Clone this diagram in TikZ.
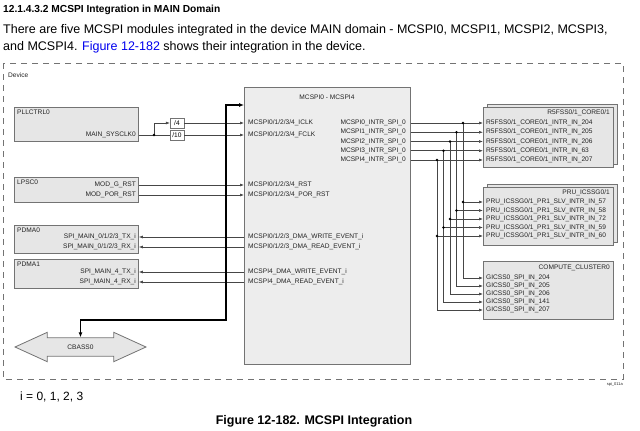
\documentclass[tikz,border=0pt]{standalone}
\usepackage{fontspec}
\setmainfont{Liberation Sans}
\usetikzlibrary{arrows.meta,positioning,shapes.arrows,shadows,calc}
\definecolor{linkblue}{RGB}{0,0,238}
\definecolor{boxfill}{RGB}{230,230,230}
\definecolor{mcspifill}{RGB}{237,237,237}
\definecolor{boxline}{RGB}{115,115,115}
\definecolor{wiregray}{RGB}{70,70,70}
\definecolor{labeltext}{RGB}{35,35,35}

\begin{document}
\begin{tikzpicture}[x=1pt, y=-1pt,
    box/.style={rectangle, draw=boxline, fill=boxfill, line width=0.8pt, anchor=north west, inner sep=0pt},
    stacked/.style={box, copy shadow={shadow xshift=3.5pt, shadow yshift=3.5pt}},
    port/.style={font=\fontsize{6.6}{7.5}\selectfont, text=labeltext, inner sep=1pt},
    sig/.style={draw=wiregray, line width=0.6pt, -{Latex[length=4pt, width=3pt]}},
    link/.style={draw=wiregray, line width=0.6pt},
    bus/.style={draw=black, line width=1.2pt, {Latex[length=5pt, width=4pt]}-{Latex[length=5pt, width=4pt]}},
    divbox/.style={rectangle, draw=boxline, fill=white, minimum width=14pt, minimum height=10pt,
      inner sep=0pt, font=\fontsize{6.6}{7.5}\selectfont}
  ]
    \useasboundingbox (0,0) rectangle (640,431);
    % Heading and text
    \node[anchor=west, inner sep=0pt, font=\bfseries\fontsize{10.2}{12}\selectfont] (heading) at (3,10)
      {12.1.4.3.2 MCSPI Integration in MAIN Domain};
    \node[anchor=north west, inner sep=0pt, align=left, font=\fontsize{12.5}{17}\selectfont] (intro) at (3,24.5)
      {There are five MCSPI modules integrated in the device MAIN domain - MCSPI0, MCSPI1, MCSPI2, MCSPI3,\\
       and MCSPI4. \textcolor{linkblue}{Figure 12-182} shows their integration in the device.};

    % Device frame
    \draw[boxline, dash pattern=on 6pt off 5pt, line width=0.6pt] (3,63) rectangle (623,379);
    \node[port, anchor=west] (device) at (7,75) {Device};
    \node[port, anchor=east, font=\fontsize{4}{5}\selectfont] (figid) at (624,384) {spi\_011a};

    % Left boxes
    \node[box, minimum width=124pt, minimum height=34pt] (pll) at (14,107) {};
    \node[port, anchor=west] (pll-title) at (16,112) {PLLCTRL0};
    \node[port, anchor=east] (sysclk) at (137,135) {MAIN\_SYSCLK0};

    \node[box, minimum width=124pt, minimum height=25pt] (lpsc) at (14,177) {};
    \node[port, anchor=west] (lpsc-title) at (16,182) {LPSC0};
    \node[port, anchor=east] (grst) at (137,185) {MOD\_G\_RST};
    \node[port, anchor=east] (porrst) at (137,195) {MOD\_POR\_RST};

    \node[box, minimum width=124pt, minimum height=28pt] (pdma0) at (14,225) {};
    \node[port, anchor=west] (pdma0-title) at (16,230) {PDMA0};
    \node[port, anchor=east] (tx0) at (137,237) {SPI\_MAIN\_0/1/2/3\_TX\_i};
    \node[port, anchor=east] (rx0) at (137,247) {SPI\_MAIN\_0/1/2/3\_RX\_i};

    \node[box, minimum width=124pt, minimum height=29pt] (pdma1) at (14,259) {};
    \node[port, anchor=west] (pdma1-title) at (16,264) {PDMA1};
    \node[port, anchor=east] (tx4) at (137,272) {SPI\_MAIN\_4\_TX\_i};
    \node[port, anchor=east] (rx4) at (137,282) {SPI\_MAIN\_4\_RX\_i};

    \node[double arrow, draw=boxline, fill=boxfill, line width=0.8pt, minimum height=131pt, minimum width=29pt,
      double arrow head extend=5.5pt, double arrow tip angle=49, inner ysep=6.5pt,
      font=\fontsize{6.6}{7.5}\selectfont, text=labeltext] (cbass) at (80.5,347) {CBASS0};

    % Clock dividers
    \node[divbox] (div4) at (177,123) {/4};
    \node[divbox] (div10) at (177,135) {/10};

    % MCSPI module
    \node[box, fill=mcspifill, minimum width=166pt, minimum height=277pt] (mcspi) at (244,87) {};
    \node[port] (mcspi-title) at (327,97) {MCSPI0 - MCSPI4};
    \node[port, anchor=west] (iclk) at (247,123) {MCSPI0/1/2/3/4\_ICLK};
    \node[port, anchor=west] (fclk) at (247,135) {MCSPI0/1/2/3/4\_FCLK};
    \node[port, anchor=west] (rst) at (247,185) {MCSPI0/1/2/3/4\_RST};
    \node[port, anchor=west] (prst) at (247,195) {MCSPI0/1/2/3/4\_POR\_RST};
    \node[port, anchor=west] (wr0) at (247,237) {MCSPI0/1/2/3\_DMA\_WRITE\_EVENT\_i};
    \node[port, anchor=west] (rd0) at (247,247) {MCSPI0/1/2/3\_DMA\_READ\_EVENT\_i};
    \node[port, anchor=west] (wr4) at (247,272) {MCSPI4\_DMA\_WRITE\_EVENT\_i};
    \node[port, anchor=west] (rd4) at (247,282) {MCSPI4\_DMA\_READ\_EVENT\_i};
    \node[port, anchor=east] (out0) at (407,123) {MCSPI0\_INTR\_SPI\_0};
    \node[port, anchor=east] (out1) at (407,132.25) {MCSPI1\_INTR\_SPI\_0};
    \node[port, anchor=east] (out2) at (407,141.5) {MCSPI2\_INTR\_SPI\_0};
    \node[port, anchor=east] (out3) at (407,150.75) {MCSPI3\_INTR\_SPI\_0};
    \node[port, anchor=east] (out4) at (407,160) {MCSPI4\_INTR\_SPI\_0};

    % Interrupt targets
    \node[stacked, minimum width=130pt, minimum height=60pt] (r5) at (483,107) {};
    \node[port, anchor=east] (r5-title) at (611,113) {R5FSS0/1\_CORE0/1};
    \node[port, anchor=west] (r5in0) at (485,123) {R5FSS0/1\_CORE0/1\_INTR\_IN\_204};
    \node[port, anchor=west] (r5in1) at (485,132.25) {R5FSS0/1\_CORE0/1\_INTR\_IN\_205};
    \node[port, anchor=west] (r5in2) at (485,141.5) {R5FSS0/1\_CORE0/1\_INTR\_IN\_206};
    \node[port, anchor=west] (r5in3) at (485,150.75) {R5FSS0/1\_CORE0/1\_INTR\_IN\_63};
    \node[port, anchor=west] (r5in4) at (485,160) {R5FSS0/1\_CORE0/1\_INTR\_IN\_207};

    \node[stacked, minimum width=130pt, minimum height=58pt] (pru) at (483,187) {};
    \node[port, anchor=east] (pru-title) at (611,193) {PRU\_ICSSG0/1};
    \node[port, anchor=west] (pruin0) at (485,202) {PRU\_ICSSG0/1\_PR1\_SLV\_INTR\_IN\_57};
    \node[port, anchor=west] (pruin1) at (485,210.5) {PRU\_ICSSG0/1\_PR1\_SLV\_INTR\_IN\_58};
    \node[port, anchor=west] (pruin2) at (485,219) {PRU\_ICSSG0/1\_PR1\_SLV\_INTR\_IN\_72};
    \node[port, anchor=west] (pruin3) at (485,227.5) {PRU\_ICSSG0/1\_PR1\_SLV\_INTR\_IN\_59};
    \node[port, anchor=west] (pruin4) at (485,236) {PRU\_ICSSG0/1\_PR1\_SLV\_INTR\_IN\_60};

    \node[box, minimum width=130pt, minimum height=58pt] (gic) at (483,261) {};
    \node[port, anchor=east] (gic-title) at (611,268) {COMPUTE\_CLUSTER0};
    \node[port, anchor=west] (gicin0) at (485,278) {GICSS0\_SPI\_IN\_204};
    \node[port, anchor=west] (gicin1) at (485,286) {GICSS0\_SPI\_IN\_205};
    \node[port, anchor=west] (gicin2) at (485,294) {GICSS0\_SPI\_IN\_206};
    \node[port, anchor=west] (gicin3) at (485,302) {GICSS0\_SPI\_IN\_141};
    \node[port, anchor=west] (gicin4) at (485,310) {GICSS0\_SPI\_IN\_207};

    % Clock and reset wiring
    \coordinate (clksplit) at (154,135);
    \draw[sig] (pll.east |- sysclk) -- (clksplit) |- (div4.west);
    \draw[link] (clksplit) -- (div10.west);
    \fill[black] (clksplit) circle (1.3pt);
    \draw[sig] (div4.east) -- (mcspi.west |- iclk);
    \draw[sig] (div10.east) -- (mcspi.west |- fclk);
    \draw[sig] (lpsc.east |- grst) -- (mcspi.west |- rst);
    \draw[sig] (lpsc.east |- porrst) -- (mcspi.west |- prst);

    % DMA events
    \draw[sig] (mcspi.west |- wr0) -- (pdma0.east |- tx0);
    \draw[sig] (mcspi.west |- rd0) -- (pdma0.east |- rx0);
    \draw[sig] (mcspi.west |- wr4) -- (pdma1.east |- tx4);
    \draw[sig] (mcspi.west |- rd4) -- (pdma1.east |- rx4);

    % Bus to CBASS0
    \coordinate (bustop) at (226,105);
    \coordinate (busturn) at (226,320);
    \draw[bus] (cbass.north) |- (busturn) -- (bustop) -- (mcspi.west |- bustop);

    % Interrupt routing
    \foreach \i/\vx in {0/463,1/456.5,2/450,3/443.5,4/437} {
      \coordinate (v\i) at (\vx,0 |- out\i);
      \draw[sig] (mcspi.east |- out\i) -- (r5.west |- r5in\i);
      \draw[sig] (v\i) |- (pru.west |- pruin\i);
      \draw[sig] (v\i) |- (gic.west |- gicin\i);
      \fill[black] (v\i) circle (1.3pt);
      \fill[black] (v\i |- pruin\i) circle (1.3pt);
    }

    % Notes
    \node[anchor=west, inner sep=0pt, font=\fontsize{12}{14}\selectfont] (note) at (20,397) {i = 0, 1, 2, 3};
    \node[inner sep=0pt, font=\bfseries\fontsize{12.5}{14}\selectfont] (caption) at (314,421)
      {Figure 12-182. MCSPI Integration};
  \end{tikzpicture}
\end{document}
